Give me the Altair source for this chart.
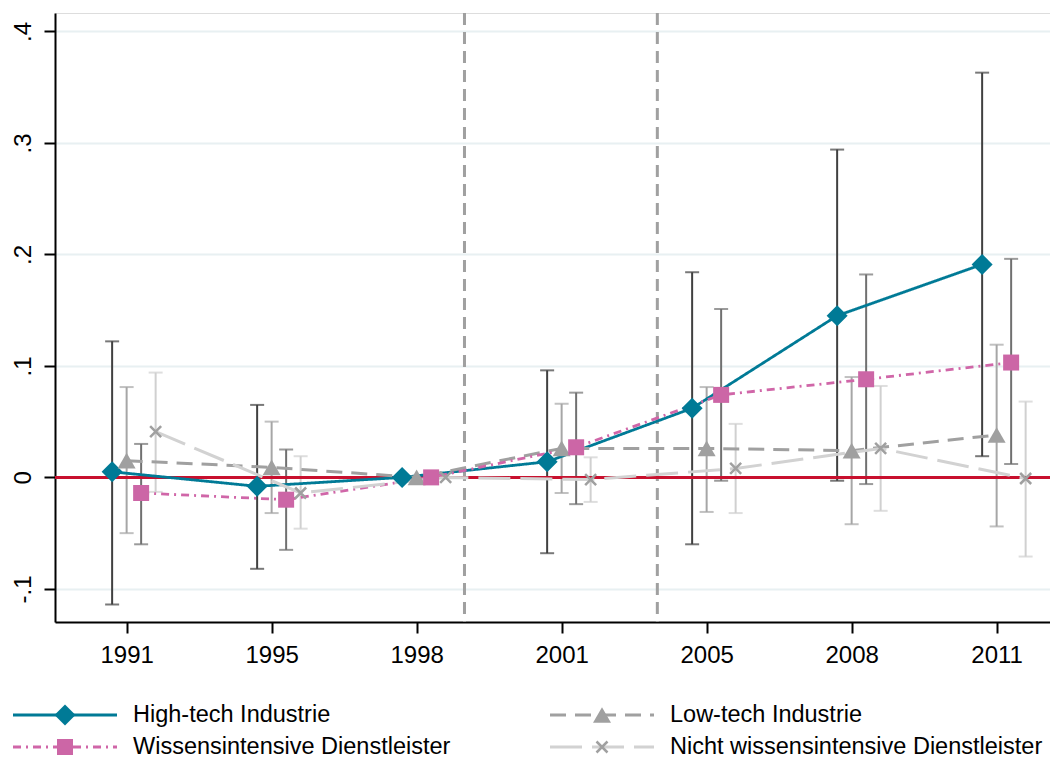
import json
import pandas as pd
import altair as alt

# ---------------- data ----------------
years = ["1991", "1995", "1998", "2001", "2005", "2008", "2011"]
series = [
    "High-tech Industrie",
    "Low-tech Industrie",
    "Wissensintensive Dienstleister",
    "Nicht wissensintensive Dienstleister",
]

hightech_est = [0.005, -0.008, 0.0, 0.014, 0.062, 0.145, 0.191]
hightech_lo = [-0.114, -0.082, None, -0.068, -0.060, -0.003, 0.019]
hightech_hi = [0.122, 0.065, None, 0.096, 0.184, 0.294, 0.363]

lowtech_est = [0.015, 0.009, 0.0, 0.026, 0.026, 0.024, 0.038]
lowtech_lo = [-0.050, -0.032, None, -0.014, -0.031, -0.042, -0.044]
lowtech_hi = [0.081, 0.050, None, 0.066, 0.081, 0.090, 0.119]

wissen_est = [-0.014, -0.020, 0.0, 0.027, 0.074, 0.088, 0.103]
wissen_lo = [-0.060, -0.065, None, -0.024, -0.003, -0.006, 0.012]
wissen_hi = [0.030, 0.025, None, 0.076, 0.151, 0.182, 0.196]

nicht_est = [0.041, -0.014, 0.0, -0.002, 0.008, 0.026, -0.001]
nicht_lo = [-0.013, -0.046, None, -0.022, -0.032, -0.030, -0.071]
nicht_hi = [0.094, 0.019, None, 0.018, 0.048, 0.082, 0.068]

y_tick_values = [-0.1, 0.0, 0.1, 0.2, 0.3, 0.4]
y_tick_labels = ["-.1", "0", ".1", ".2", ".3", ".4"]
period_breaks = [2.33, 3.66]   # dashed vertical separators (in year-slot units)

# ---------------- styles ----------------
styles = {
    "High-tech Industrie": dict(line="#007a96", dash=[1, 0], lw=2.8, shape="diamond",
                                msize=440, mcolor="#007a96", filled=True, ci="#404040", dodge=-0.1),
    "Low-tech Industrie": dict(line="#a0a0a0", dash=[16, 9], lw=3, shape="triangle-up",
                               msize=324, mcolor="#a0a0a0", filled=True, ci="#a6a6a6", dodge=0.0),
    "Wissensintensive Dienstleister": dict(line="#d066a8", dash=[8, 5, 2, 5], lw=2.8, shape="square",
                                           msize=256, mcolor="#cc66a6", filled=True, ci="#707070", dodge=0.1),
    "Nicht wissensintensive Dienstleister": dict(line="#d2d2d2", dash=[32, 10], lw=3,
                                                 shape="M-1,-1L1,1M-1,1L1,-1", msize=121,
                                                 mcolor="#a0a0a0", filled=False, ci="#d0d0d0", dodge=0.2),
}

est = [hightech_est, lowtech_est, wissen_est, nicht_est]
los = [hightech_lo, lowtech_lo, wissen_lo, nicht_lo]
his = [hightech_hi, lowtech_hi, wissen_hi, nicht_hi]

rows = []
for s, e, lo, hi in zip(series, est, los, his):
    for i, y in enumerate(years):
        rows.append(dict(series=s, year=y, idx=i, pos=i + styles[s]["dodge"],
                         est=e[i], lo=lo[i], hi=hi[i]))
df = pd.DataFrame(rows)

W, H = 995, 609
FONT = "Liberation Sans, Arial, Helvetica, sans-serif"

xscale = alt.Scale(domain=[-0.494, 6.368], nice=False, zero=False)
yscale = alt.Scale(domain=[-0.1297, 0.4165], nice=False, zero=False)

year_expr = json.dumps(years) + "[round(datum.value)]"
ylab_expr = json.dumps(y_tick_labels) + "[round(datum.value*10)+1]"

xaxis = alt.Axis(values=list(range(len(years))), labelExpr=year_expr, title=None, grid=False,
                 domainColor="black", domainWidth=2, tickColor="black", tickWidth=2, tickSize=11,
                 labelFontSize=24, labelFont=FONT, labelColor="black", labelPadding=10)
yaxis = alt.Axis(values=y_tick_values, labelExpr=ylab_expr, title=None, grid=True,
                 gridColor="#e8f0f2", gridWidth=2,
                 domainColor="black", domainWidth=2, tickColor="black", tickWidth=2, tickSize=11,
                 labelFontSize=24, labelFont=FONT, labelColor="black", labelAngle=270,
                 labelAlign="center", labelBaseline="alphabetic", labelPadding=14)

base = alt.Chart(df)

# axes carrier (invisible)
axes_layer = base.mark_point(opacity=0).encode(
    x=alt.X("pos:Q", scale=xscale, axis=xaxis),
    y=alt.Y("est:Q", scale=yscale, axis=yaxis),
)

vlines = alt.Chart(pd.DataFrame({"b": period_breaks})).mark_rule(
    color="#a0a0a0", strokeWidth=3, strokeDash=[12, 7]
).encode(x=alt.X("b:Q", scale=xscale))

zero_line = alt.Chart(pd.DataFrame({"z": [0.0]})).mark_rule(
    color="#c8102e", strokeWidth=3
).encode(y=alt.Y("z:Q", scale=yscale))

ci_layers, line_layers, mark_layers = [], [], []
for s in series:
    st = styles[s]
    sb = base.transform_filter(alt.datum.series == s)
    ci = sb.transform_filter("isValid(datum.lo)")
    ci_layers.append(ci.mark_rule(color=st["ci"], strokeWidth=2).encode(
        x="pos:Q", y="lo:Q", y2="hi:Q"))
    ci_layers.append(ci.mark_tick(color=st["ci"], orient="horizontal", size=14, thickness=2).encode(
        x="pos:Q", y="lo:Q"))
    ci_layers.append(ci.mark_tick(color=st["ci"], orient="horizontal", size=14, thickness=2).encode(
        x="pos:Q", y="hi:Q"))
    line_layers.append(sb.mark_line(color=st["line"], strokeWidth=st["lw"], strokeDash=st["dash"]).encode(
        x="pos:Q", y="est:Q", order="idx:Q"))
    if st["filled"]:
        mk = sb.mark_point(shape=st["shape"], size=st["msize"], filled=True, fill=st["mcolor"],
                           strokeWidth=0, opacity=1)
    else:
        mk = sb.mark_point(shape=st["shape"], size=st["msize"], filled=False, stroke=st["mcolor"],
                           strokeWidth=2.5, opacity=1)
    mark_layers.append(mk.encode(x="pos:Q", y="est:Q"))

main = alt.layer(axes_layer, vlines, *ci_layers, zero_line, *line_layers, *mark_layers)

# ---------------- legend (drawn manually) ----------------
leg_df = pd.DataFrame({"series": series, "col": [0, 1, 0, 1], "row": [0, 0, 1, 1]})
lx = alt.Scale(domain=[0, 1], range=[-42, 495])
ly = alt.Scale(domain=[0, 1], range=[702, 734])
leg_layers = []
for s in series:
    st = styles[s]
    lb = alt.Chart(leg_df).transform_filter(alt.datum.series == s)
    enc = dict(x=alt.X("col:Q", scale=lx, axis=None), y=alt.Y("row:Q", scale=ly, axis=None))
    leg_layers.append(lb.mark_rule(color=st["line"], strokeWidth=st["lw"], strokeDash=st["dash"],
                                   x2Offset=104).encode(x2="col:Q", **enc))
    if st["filled"]:
        mk = lb.mark_point(shape=st["shape"], size=st["msize"], filled=True, fill=st["mcolor"],
                           strokeWidth=0, opacity=1, xOffset=52)
    else:
        mk = lb.mark_point(shape=st["shape"], size=st["msize"], filled=False, stroke=st["mcolor"],
                           strokeWidth=2.5, opacity=1, xOffset=52)
    leg_layers.append(mk.encode(**enc))
    leg_layers.append(lb.mark_text(align="left", baseline="middle", xOffset=120, fontSize=23.5,
                                   font=FONT, color="black").encode(text="series:N", **enc))
legend = alt.layer(*leg_layers)

chart = alt.layer(main, legend).resolve_scale(x="independent", y="independent").properties(
    width=W, height=H,
    autosize=alt.AutoSizeParams(type="none"),
    padding={"left": 47, "top": 5, "right": 0, "bottom": 138},
).configure_view(stroke=None).configure(background="white")

chart.save("out.html", embed_options={"renderer": "svg", "actions": False})
